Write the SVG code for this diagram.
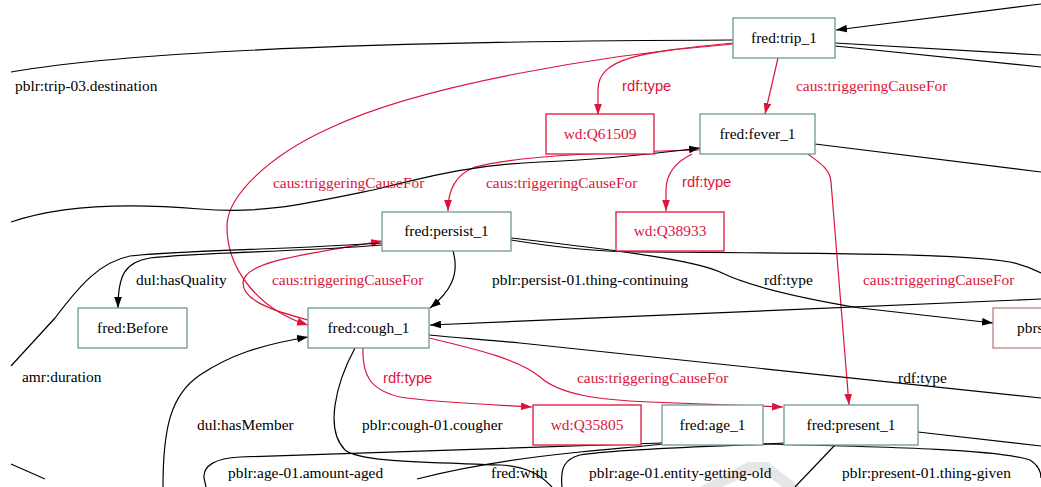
<svg xmlns="http://www.w3.org/2000/svg" width="1041" height="487" viewBox="0 0 1041 487">
<style>
.bg{fill:#ffffff}
.n rect{fill:#ffffff;stroke:#6f9797;stroke-width:1.3}
.n.r rect{stroke:#dc143c}
.n.p rect{stroke:#b98484}
.n text{font-family:"Liberation Serif",serif;font-size:15.4px;fill:#000;text-anchor:middle}
.n.r text{fill:#dc143c}
.e path{fill:none;stroke:#000;stroke-width:1.2}
.e path.red{stroke:#dc143c}
.lb{font-family:"Liberation Serif",serif;font-size:15.4px;fill:#000}
.lb.red{fill:#dc143c}
.lb.sans{font-family:"Liberation Sans",Arial,sans-serif;font-size:14.8px}
.wm{fill:#e6e6e6}
</style>
<defs>
<marker id="ab" viewBox="0 0 10 7" refX="10" refY="3.5" markerWidth="11" markerHeight="8" markerUnits="userSpaceOnUse" orient="auto"><path d="M0,0 L10,3.5 L0,7 z" fill="#000"/></marker>
<marker id="ar" viewBox="0 0 10 7" refX="10" refY="3.5" markerWidth="11" markerHeight="8" markerUnits="userSpaceOnUse" orient="auto"><path d="M0,0 L10,3.5 L0,7 z" fill="#dc143c"/></marker>
</defs>
<rect class="bg" x="0" y="0" width="1041" height="487"/>
<path class="wm" d="M700,487 L748,462 L768,462 L800,487 L782,487 L760,470 L722,487 z"/>
<g id="connectors" class="e">
<path d="M1041,4 L836,30" marker-end="url(#ab)"/>
<path d="M733,40 C 450,41 150,48 11,72"/>
<path d="M835,43 L1041,55"/>
<path d="M835,46 L1041,67"/>
<path class="red" d="M733,44 C 600,55 420,85 330,128 C 270,155 228,195 227,225 C 226,270 260,310 308,325" marker-end="url(#ar)"/>
<path class="red" d="M733,43 C 640,52 598,58 598,90 L598,115" marker-end="url(#ar)"/>
<path class="red" d="M778,58 L765,114" marker-end="url(#ar)"/>
<path class="red" d="M700,150 C 620,152 520,155 475,167 C 455,175 448,190 448,211" marker-end="url(#ar)"/>
<path d="M11,222 C 60,205 130,203 200,209 C 260,214 300,205 373,190 C 430,176 470,165 540,162 C 600,160 660,153 700,148" marker-end="url(#ab)"/>
<path class="red" d="M692,154 C 680,160 666,170 666,190 L666,211" marker-end="url(#ar)"/>
<path class="red" d="M808,154 C 818,162 830,168 831,182 L849,405" marker-end="url(#ar)"/>
<path d="M815,144 L1041,172"/>
<path d="M453,251 C 460,275 450,292 430,308" marker-end="url(#ab)"/>
<path class="red" d="M308,320 C 270,310 243,300 243,283 C 243,262 300,255 382,241" marker-end="url(#ar)"/>
<path d="M382,245 C 300,252 200,252 150,258 C 125,262 118,275 118,308" marker-end="url(#ab)"/>
<path d="M382,243 C 280,250 180,250 130,256 C 100,262 80,285 55,318 L11,366"/>
<path d="M511,238 C 580,246 690,258 720,272 C 750,287 800,298 860,308 L993,323" marker-end="url(#ab)"/>
<path d="M511,240 C 560,248 600,252 640,252 C 800,253 960,253 1010,262 C 1025,265 1035,270 1041,273"/>
<path d="M1041,299 L430,325" marker-end="url(#ab)"/>
<path d="M429,335 C 460,338 490,340 520,343 L1041,398"/>
<path class="red" d="M363,348 C 362,375 370,390 400,397 C 440,403 500,405 532,407" marker-end="url(#ar)"/>
<path class="red" d="M429,338 C 480,350 520,360 540,377 C 560,395 600,400 650,402 L783,407" marker-end="url(#ar)"/>
<path d="M355,348 C 335,385 325,430 345,450 C 360,462 420,462 500,465 C 525,466 540,474 552,487"/>
<path d="M163,487 C 163,430 170,395 200,375 C 230,355 260,345 308,337" marker-end="url(#ab)"/>
<path d="M11,464 L45,479"/>
<path d="M662,443 L240,457 C 215,458 203,466 204,478 L206,487"/>
<path d="M417,479 C 460,468 520,458 580,452 C 620,448 650,446 662,444"/>
<path d="M784,443 C 740,446 620,448 580,455 C 565,459 560,467 562,487"/>
<path d="M762,444 C 900,447 1000,450 1030,460 C 1038,465 1041,472 1041,478"/>
<path d="M835,445 L795,487"/>
<path d="M918,432 L1041,446"/>
</g>
<g id="labels">
<text class="lb" x="15" y="91">pblr:trip-03.destination</text>
<text class="lb red sans" x="622" y="91">rdf:type</text>
<text class="lb red" x="796" y="91">caus:triggeringCauseFor</text>
<text class="lb red" x="273" y="188">caus:triggeringCauseFor</text>
<text class="lb red" x="486" y="188">caus:triggeringCauseFor</text>
<text class="lb red sans" x="682" y="187">rdf:type</text>
<text class="lb" x="136" y="285">dul:hasQuality</text>
<text class="lb red" x="272" y="285">caus:triggeringCauseFor</text>
<text class="lb" x="492" y="285">pblr:persist-01.thing-continuing</text>
<text class="lb" x="764" y="285">rdf:type</text>
<text class="lb red" x="863" y="285">caus:triggeringCauseFor</text>
<text class="lb" x="22" y="382">amr:duration</text>
<text class="lb red sans" x="383" y="383">rdf:type</text>
<text class="lb red" x="577" y="383">caus:triggeringCauseFor</text>
<text class="lb" x="898" y="383">rdf:type</text>
<text class="lb" x="197" y="430">dul:hasMember</text>
<text class="lb" x="362" y="430">pblr:cough-01.cougher</text>
<text class="lb" x="228" y="478">pblr:age-01.amount-aged</text>
<text class="lb" x="491" y="478">fred:with</text>
<text class="lb" x="589" y="478">pblr:age-01.entity-getting-old</text>
<text class="lb" x="842" y="478">pblr:present-01.thing-given</text>
</g>
<g id="trip_1" class="n"><rect x="733" y="18" width="102" height="40"/><text x="784" y="43">fred:trip_1</text></g>
<g id="Q61509" class="n r"><rect x="546" y="114" width="108" height="40"/><text x="600" y="139">wd:Q61509</text></g>
<g id="fever_1" class="n"><rect x="700" y="114" width="115" height="40"/><text x="757.5" y="139">fred:fever_1</text></g>
<g id="Q38933" class="n r"><rect x="616" y="212" width="108" height="39"/><text x="670" y="236">wd:Q38933</text></g>
<g id="persist_1" class="n"><rect x="382" y="212" width="129" height="39"/><text x="446.5" y="236">fred:persist_1</text></g>
<g id="Before" class="n"><rect x="78" y="308" width="109" height="40"/><text x="132.5" y="333">fred:Before</text></g>
<g id="cough_1" class="n"><rect x="308" y="308" width="121" height="40"/><text x="368.5" y="333">fred:cough_1</text></g>
<g id="pbrs" class="n p"><rect x="993" y="308" width="60" height="40"/><text x="1017" y="333" style="text-anchor:start">pbrs</text></g>
<g id="Q35805" class="n r"><rect x="533" y="405" width="108" height="40"/><text x="587" y="430">wd:Q35805</text></g>
<g id="age_1" class="n"><rect x="662" y="405" width="101" height="40"/><text x="712.5" y="430">fred:age_1</text></g>
<g id="present_1" class="n"><rect x="784" y="405" width="134" height="40"/><text x="851" y="430">fred:present_1</text></g>
</svg>
